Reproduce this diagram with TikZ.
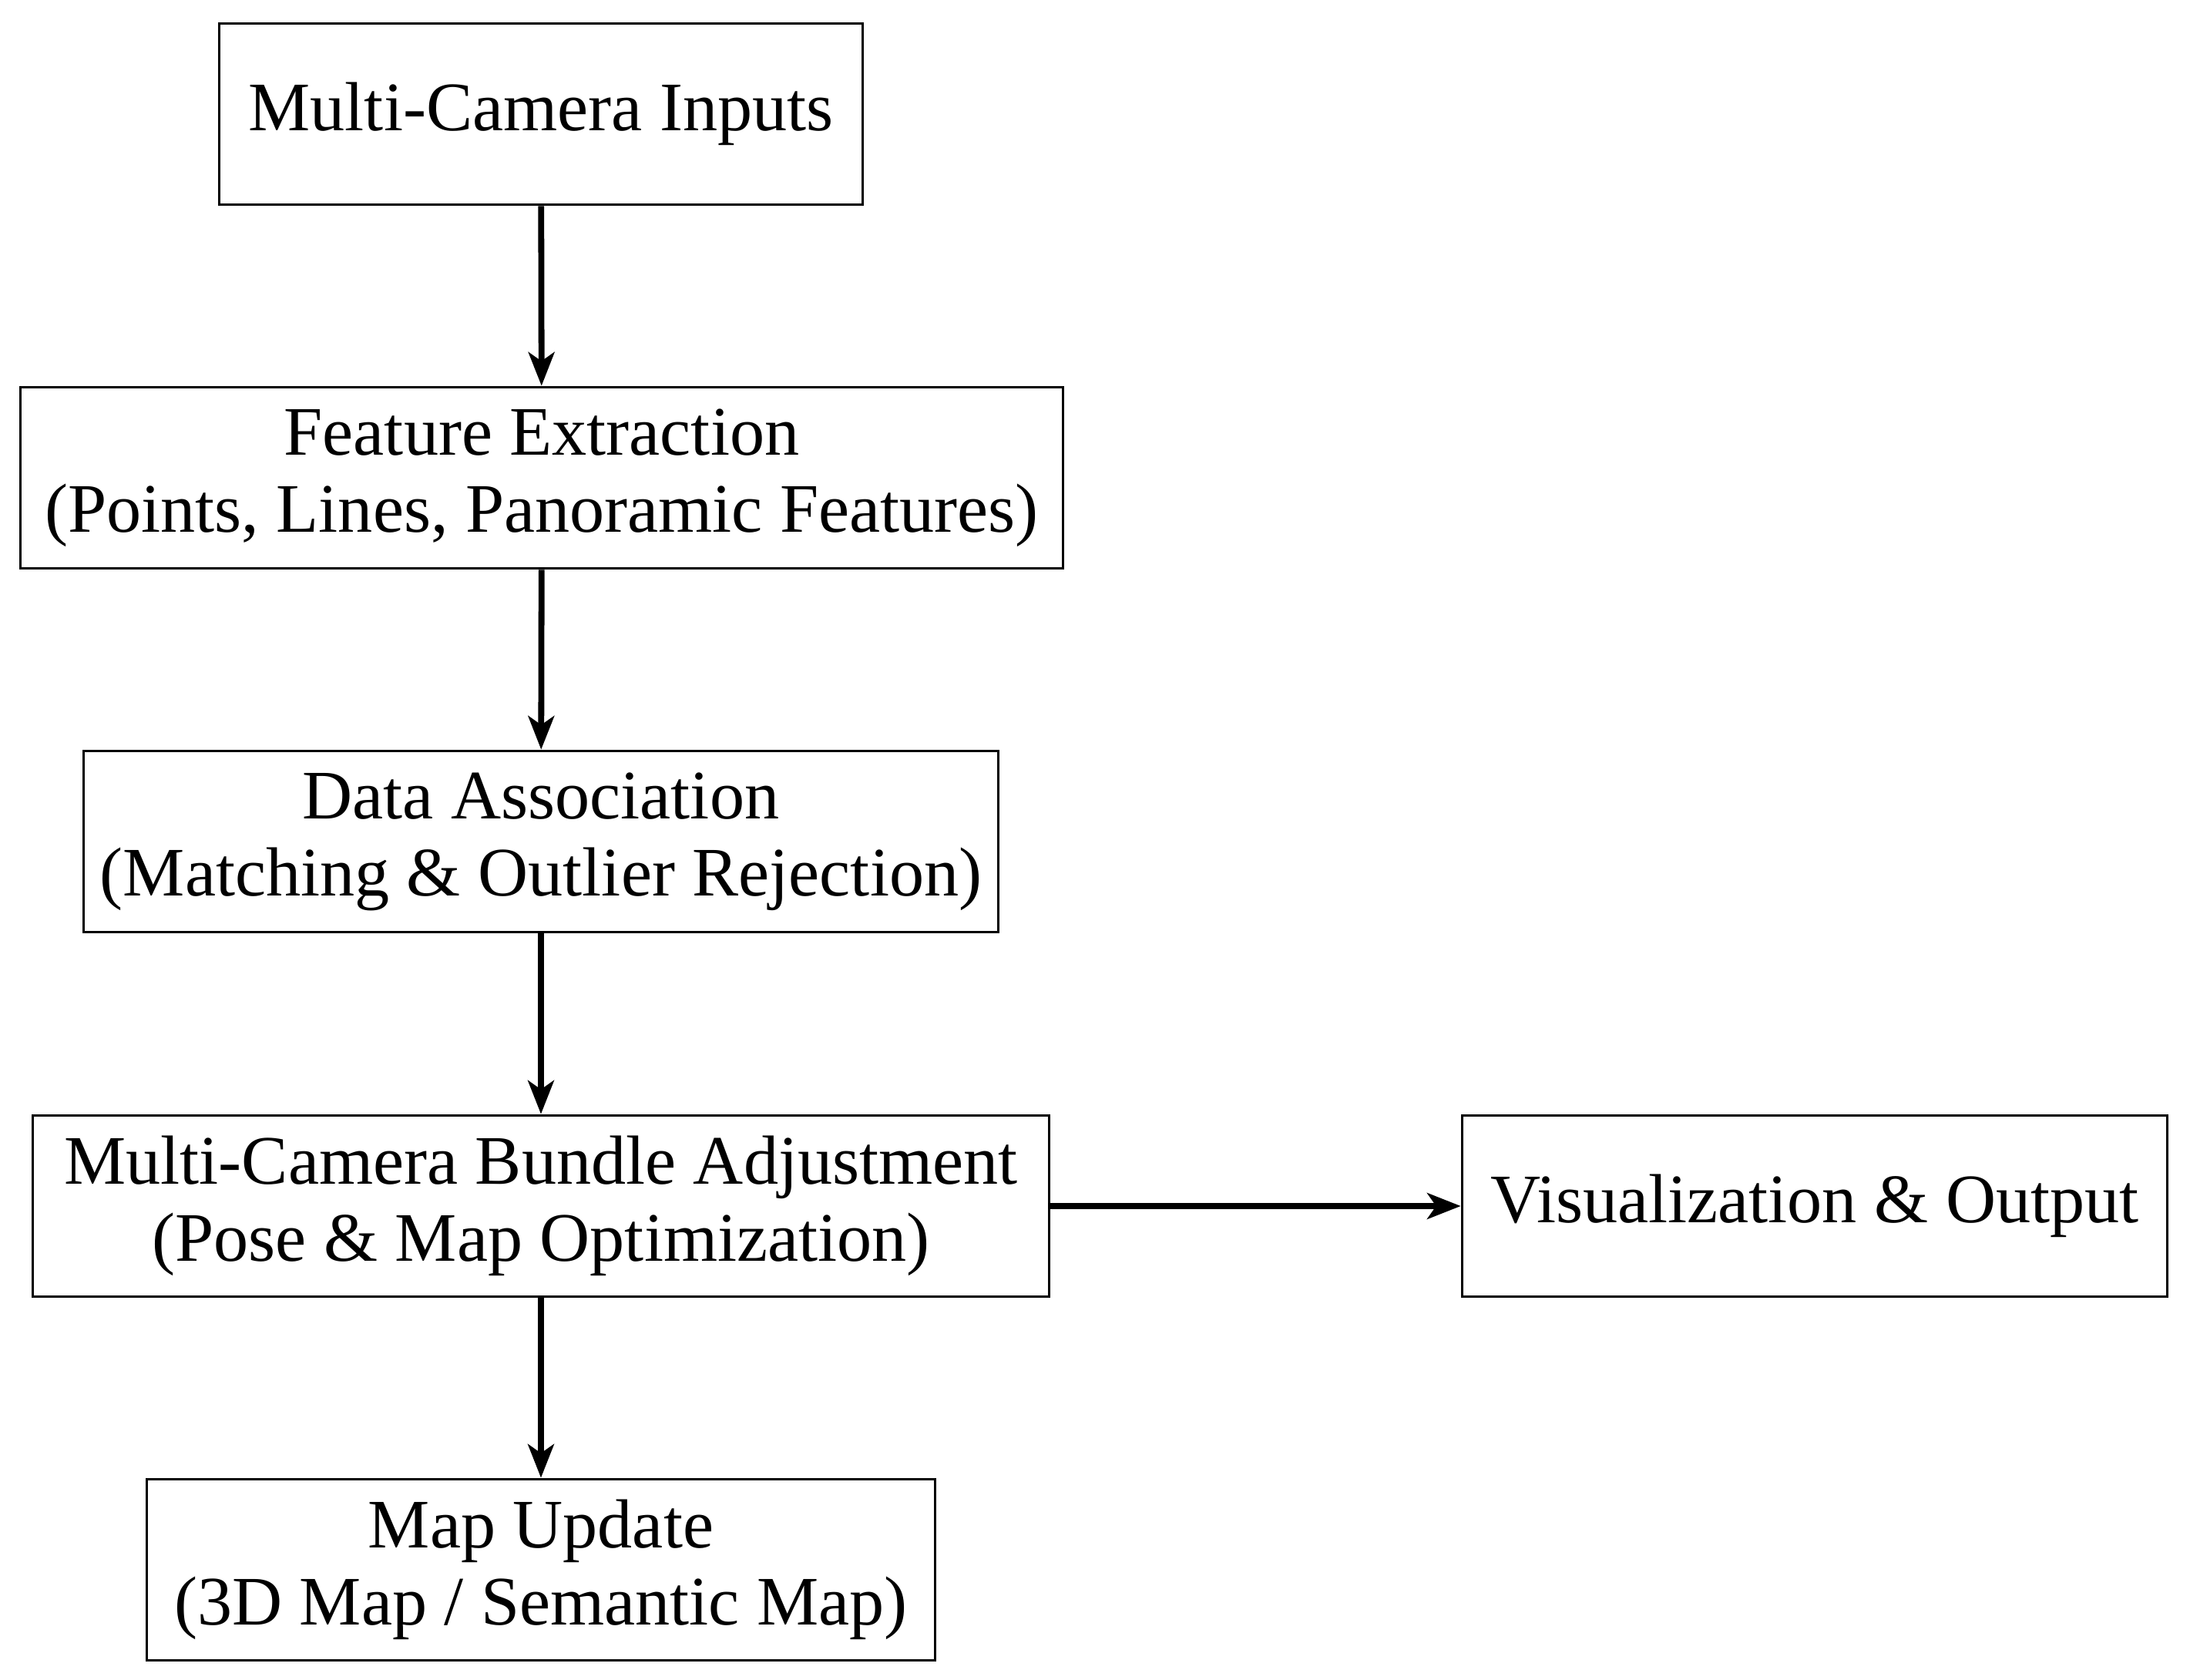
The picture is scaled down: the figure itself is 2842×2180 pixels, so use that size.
\documentclass[tikz,border=0pt]{standalone}
\usepackage{fontspec}
\setmainfont{Liberation Serif}
\usetikzlibrary{arrows.meta}
\newdimen\pxu \pxu=0.122pt
\begin{document}
\begin{tikzpicture}[x=0.122pt,y=-0.122pt,
  box/.style={draw,line width=0.45pt,align=center,inner sep=0pt,minimum height=235\pxu,font=\fontsize{11}{12.2}\selectfont},
  flow/.style={-{Stealth[length=5.3pt,width=4.1pt,inset=1.4pt]},line width=0.95pt}]
\useasboundingbox (0,0) rectangle (2842,2180);
\node[box,minimum width=835\pxu] (in) at (702,148) {Multi-Camera Inputs};
\node[box,minimum width=1353\pxu] (fe) at (703,620) {Feature Extraction\\(Points, Lines, Panoramic Features)};
\node[box,minimum width=1187\pxu] (da) at (702,1092) {Data Association\\(Matching \& Outlier Rejection)};
\node[box,minimum width=1319\pxu] (ba) at (702,1565) {Multi-Camera Bundle Adjustment\\(Pose \& Map Optimization)};
\node[box,minimum width=915\pxu] (vo) at (2355,1565) {Visualization \& Output};
\node[box,minimum width=1023\pxu] (mu) at (702,2037) {Map Update\\(3D Map / Semantic Map)};
\draw[flow] (in) -- (fe);
\draw[flow] (fe) -- (da);
\draw[flow] (da) -- (ba);
\draw[flow] (ba) -- (mu);
\draw[flow] (ba) -- (vo);
\end{tikzpicture}
\end{document}
